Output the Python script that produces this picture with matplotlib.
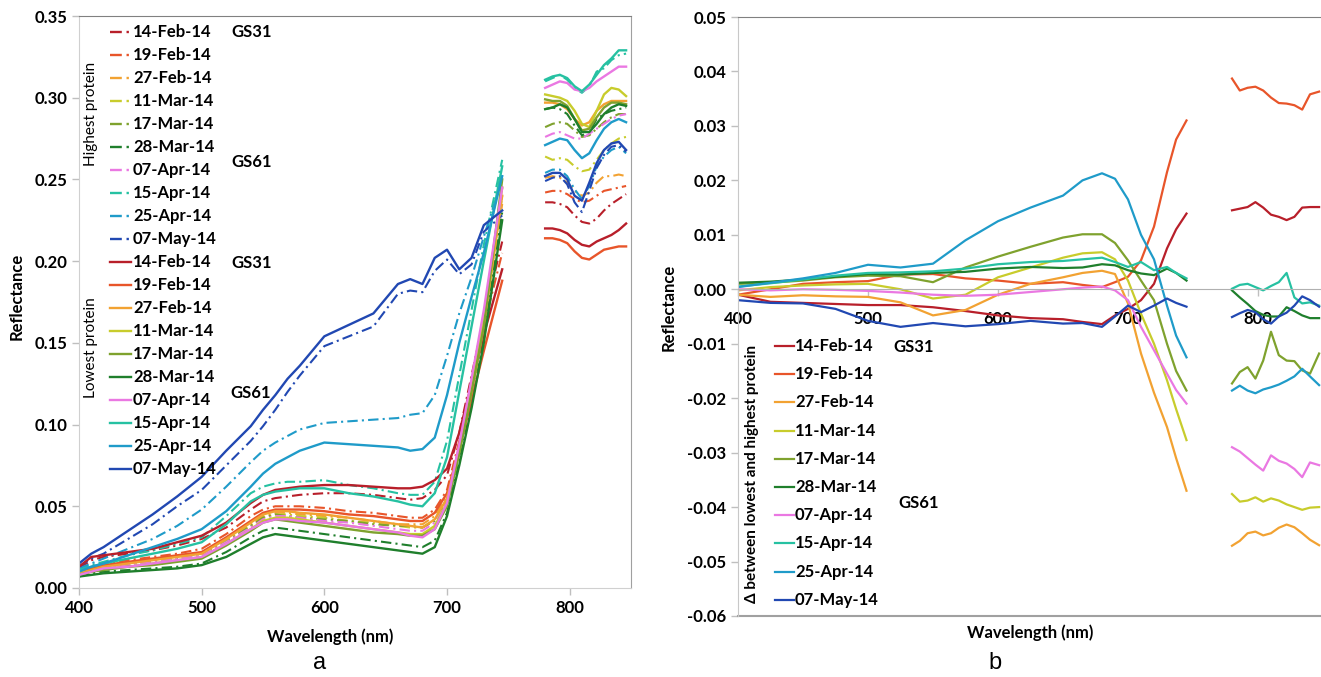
import matplotlib
matplotlib.use("Agg")
import matplotlib.pyplot as plt
from matplotlib.lines import Line2D

plt.rcParams["font.family"] = ["Lato", "DejaVu Sans"]
plt.rcParams["axes.unicode_minus"] = False

#%%data
dates = ["14-Feb-14", "19-Feb-14", "27-Feb-14", "11-Mar-14", "17-Mar-14",
         "28-Mar-14", "07-Apr-14", "15-Apr-14", "25-Apr-14", "07-May-14"]
colors = ["#b81f2a", "#e8552a", "#f2a232", "#c8cc2c", "#7fa22e",
          "#1f7f2c", "#ea78e2", "#26c1a2", "#1f9bc9", "#2148b2"]

# panel a, visible/red-edge part
wl_vis_a = [400, 410, 420, 440, 460, 480, 500, 520, 540, 550, 560, 570, 580, 600, 620,
            640, 660, 670, 680, 690, 700, 710, 720, 730, 745]
# highest protein (dash-dot)
hi_14feb = [0.012, 0.017, 0.019, 0.021, 0.023, 0.026, 0.030, 0.037, 0.048, 0.053, 0.055, 0.056, 0.057, 0.058, 0.058, 0.057, 0.055, 0.054, 0.055, 0.060, 0.069, 0.095, 0.130, 0.165, 0.212]
hi_19feb = [0.010, 0.013, 0.015, 0.017, 0.019, 0.021, 0.024, 0.033, 0.044, 0.048, 0.050, 0.050, 0.050, 0.049, 0.047, 0.046, 0.044, 0.043, 0.043, 0.048, 0.060, 0.090, 0.125, 0.160, 0.205]
hi_27feb = [0.009, 0.011, 0.013, 0.015, 0.017, 0.019, 0.021, 0.029, 0.039, 0.044, 0.046, 0.046, 0.045, 0.044, 0.043, 0.041, 0.039, 0.039, 0.039, 0.044, 0.056, 0.085, 0.120, 0.158, 0.235]
hi_11mar = [0.009, 0.011, 0.013, 0.015, 0.017, 0.019, 0.021, 0.029, 0.038, 0.043, 0.045, 0.045, 0.044, 0.043, 0.041, 0.040, 0.038, 0.037, 0.037, 0.042, 0.054, 0.085, 0.122, 0.160, 0.240]
hi_17mar = [0.009, 0.011, 0.012, 0.014, 0.016, 0.018, 0.020, 0.028, 0.038, 0.043, 0.045, 0.044, 0.043, 0.042, 0.041, 0.039, 0.038, 0.038, 0.037, 0.041, 0.053, 0.084, 0.120, 0.158, 0.245]
hi_28mar = [0.007, 0.009, 0.010, 0.011, 0.012, 0.013, 0.015, 0.022, 0.031, 0.035, 0.037, 0.036, 0.035, 0.033, 0.031, 0.029, 0.027, 0.026, 0.025, 0.029, 0.046, 0.077, 0.112, 0.152, 0.230]
hi_07apr = [0.008, 0.010, 0.012, 0.014, 0.016, 0.018, 0.020, 0.028, 0.037, 0.042, 0.044, 0.044, 0.043, 0.041, 0.040, 0.038, 0.036, 0.035, 0.035, 0.040, 0.054, 0.088, 0.126, 0.166, 0.240]
hi_15apr = [0.011, 0.014, 0.016, 0.020, 0.023, 0.027, 0.031, 0.044, 0.058, 0.062, 0.064, 0.065, 0.065, 0.066, 0.063, 0.061, 0.058, 0.057, 0.057, 0.065, 0.090, 0.130, 0.170, 0.210, 0.262]
hi_25apr = [0.012, 0.015, 0.018, 0.024, 0.030, 0.038, 0.048, 0.062, 0.077, 0.084, 0.089, 0.093, 0.097, 0.101, 0.102, 0.103, 0.104, 0.106, 0.107, 0.118, 0.142, 0.168, 0.190, 0.215, 0.250]
hi_07may = [0.013, 0.018, 0.021, 0.030, 0.039, 0.050, 0.060, 0.075, 0.090, 0.099, 0.109, 0.120, 0.130, 0.148, 0.154, 0.160, 0.180, 0.182, 0.181, 0.194, 0.201, 0.192, 0.198, 0.218, 0.228]
# lowest protein (solid)
lo_14feb = [0.013, 0.019, 0.020, 0.022, 0.024, 0.028, 0.032, 0.040, 0.052, 0.057, 0.060, 0.061, 0.062, 0.063, 0.063, 0.062, 0.061, 0.061, 0.062, 0.066, 0.073, 0.095, 0.125, 0.155, 0.195]
lo_19feb = [0.009, 0.012, 0.014, 0.016, 0.018, 0.020, 0.022, 0.031, 0.041, 0.046, 0.048, 0.048, 0.048, 0.047, 0.045, 0.044, 0.042, 0.041, 0.041, 0.046, 0.058, 0.085, 0.115, 0.145, 0.188]
lo_27feb = [0.009, 0.011, 0.013, 0.015, 0.017, 0.019, 0.021, 0.030, 0.040, 0.045, 0.047, 0.047, 0.046, 0.045, 0.043, 0.041, 0.039, 0.038, 0.037, 0.042, 0.055, 0.085, 0.120, 0.160, 0.240]
lo_11mar = [0.008, 0.010, 0.012, 0.013, 0.015, 0.017, 0.019, 0.027, 0.036, 0.041, 0.043, 0.043, 0.042, 0.040, 0.038, 0.036, 0.034, 0.033, 0.033, 0.038, 0.052, 0.085, 0.125, 0.165, 0.245]
lo_17mar = [0.008, 0.010, 0.011, 0.013, 0.014, 0.016, 0.018, 0.026, 0.035, 0.040, 0.042, 0.041, 0.040, 0.038, 0.036, 0.034, 0.033, 0.032, 0.032, 0.036, 0.050, 0.082, 0.120, 0.160, 0.250]
lo_28mar = [0.007, 0.008, 0.009, 0.010, 0.011, 0.012, 0.014, 0.019, 0.027, 0.031, 0.033, 0.032, 0.031, 0.029, 0.027, 0.025, 0.023, 0.022, 0.021, 0.025, 0.044, 0.075, 0.110, 0.150, 0.225]
lo_07apr = [0.008, 0.010, 0.012, 0.013, 0.015, 0.017, 0.019, 0.027, 0.036, 0.040, 0.042, 0.042, 0.041, 0.040, 0.038, 0.036, 0.034, 0.032, 0.031, 0.036, 0.052, 0.088, 0.128, 0.170, 0.245]
lo_15apr = [0.011, 0.013, 0.015, 0.018, 0.021, 0.024, 0.028, 0.039, 0.053, 0.057, 0.059, 0.060, 0.061, 0.061, 0.058, 0.056, 0.053, 0.051, 0.050, 0.058, 0.080, 0.120, 0.160, 0.200, 0.258]
lo_25apr = [0.010, 0.013, 0.015, 0.020, 0.025, 0.030, 0.036, 0.047, 0.062, 0.070, 0.076, 0.080, 0.084, 0.089, 0.088, 0.087, 0.086, 0.084, 0.085, 0.092, 0.118, 0.150, 0.178, 0.205, 0.252]
lo_07may = [0.015, 0.021, 0.025, 0.035, 0.045, 0.056, 0.068, 0.084, 0.099, 0.109, 0.118, 0.128, 0.136, 0.154, 0.161, 0.168, 0.186, 0.189, 0.186, 0.202, 0.207, 0.195, 0.202, 0.222, 0.231]

# panel a, NIR part
wl_nir_a = [780, 786, 792, 798, 804, 810, 816, 822, 828, 834, 840, 846]
hi_nir_14feb = [0.236, 0.236, 0.235, 0.233, 0.228, 0.224, 0.223, 0.226, 0.231, 0.235, 0.238, 0.241]
hi_nir_19feb = [0.242, 0.243, 0.243, 0.241, 0.238, 0.236, 0.237, 0.240, 0.243, 0.244, 0.245, 0.246]
hi_nir_27feb = [0.251, 0.252, 0.251, 0.248, 0.243, 0.240, 0.242, 0.248, 0.252, 0.252, 0.253, 0.252]
hi_nir_11mar = [0.264, 0.262, 0.263, 0.262, 0.258, 0.255, 0.256, 0.262, 0.268, 0.272, 0.275, 0.276]
hi_nir_17mar = [0.282, 0.284, 0.285, 0.284, 0.280, 0.276, 0.277, 0.281, 0.285, 0.288, 0.290, 0.290]
hi_nir_28mar = [0.293, 0.294, 0.293, 0.290, 0.283, 0.277, 0.279, 0.287, 0.290, 0.292, 0.293, 0.294]
hi_nir_07apr = [0.276, 0.278, 0.279, 0.277, 0.275, 0.275, 0.278, 0.281, 0.284, 0.287, 0.289, 0.290]
hi_nir_15apr = [0.310, 0.312, 0.314, 0.311, 0.306, 0.303, 0.307, 0.316, 0.318, 0.323, 0.326, 0.327]
hi_nir_25apr = [0.254, 0.256, 0.256, 0.252, 0.244, 0.238, 0.246, 0.258, 0.264, 0.268, 0.270, 0.266]
hi_nir_07may = [0.249, 0.251, 0.252, 0.247, 0.236, 0.230, 0.243, 0.257, 0.265, 0.270, 0.271, 0.267]
lo_nir_14feb = [0.220, 0.220, 0.219, 0.217, 0.213, 0.210, 0.209, 0.212, 0.214, 0.216, 0.219, 0.223]
lo_nir_19feb = [0.214, 0.214, 0.213, 0.211, 0.206, 0.202, 0.201, 0.204, 0.207, 0.208, 0.209, 0.209]
lo_nir_27feb = [0.297, 0.297, 0.296, 0.293, 0.287, 0.283, 0.285, 0.292, 0.296, 0.298, 0.298, 0.298]
lo_nir_11mar = [0.302, 0.301, 0.300, 0.298, 0.292, 0.284, 0.282, 0.292, 0.302, 0.306, 0.305, 0.301]
lo_nir_17mar = [0.299, 0.298, 0.298, 0.295, 0.287, 0.280, 0.281, 0.288, 0.294, 0.297, 0.297, 0.296]
lo_nir_28mar = [0.293, 0.294, 0.296, 0.294, 0.287, 0.279, 0.279, 0.284, 0.290, 0.294, 0.296, 0.295]
lo_nir_07apr = [0.306, 0.308, 0.310, 0.309, 0.305, 0.304, 0.306, 0.310, 0.313, 0.316, 0.319, 0.319]
lo_nir_15apr = [0.311, 0.313, 0.314, 0.312, 0.307, 0.304, 0.308, 0.314, 0.320, 0.324, 0.329, 0.329]
lo_nir_25apr = [0.271, 0.273, 0.275, 0.274, 0.268, 0.263, 0.266, 0.274, 0.281, 0.285, 0.287, 0.285]
lo_nir_07may = [0.252, 0.254, 0.254, 0.250, 0.240, 0.237, 0.248, 0.260, 0.268, 0.272, 0.273, 0.268]

# panel b, difference lowest - highest protein
wl_vis_b = [400, 425, 450, 475, 500, 525, 550, 575, 600, 625, 650, 665, 680,
            690, 700, 710, 720, 730, 737, 745]
d_14feb = [-0.0010, -0.0023, -0.0025, -0.0027, -0.0029, -0.0029, -0.0033, -0.0040, -0.0048, -0.0053, -0.0055, -0.0060, -0.0064, -0.0048, -0.0036, -0.0020, 0.0010, 0.0075, 0.0110, 0.0139]
d_19feb = [-0.0010, 0.0000, 0.0010, 0.0013, 0.0015, 0.0027, 0.0028, 0.0020, 0.0016, 0.0010, 0.0013, 0.0008, 0.0004, 0.0013, 0.0023, 0.0053, 0.0115, 0.0215, 0.0275, 0.0310]
d_27feb = [-0.0010, -0.0014, -0.0011, -0.0013, -0.0014, -0.0024, -0.0048, -0.0038, -0.0010, 0.0010, 0.0022, 0.0030, 0.0034, 0.0028, -0.0026, -0.0118, -0.0190, -0.0253, -0.0310, -0.0370]
d_11mar = [-0.0002, 0.0004, 0.0007, 0.0009, 0.0010, 0.0000, -0.0017, -0.0010, 0.0022, 0.0040, 0.0058, 0.0066, 0.0068, 0.0055, 0.0016, -0.0045, -0.0100, -0.0167, -0.0220, -0.0277]
d_17mar = [0.0010, 0.0012, 0.0016, 0.0022, 0.0025, 0.0024, 0.0013, 0.0040, 0.0060, 0.0078, 0.0095, 0.0101, 0.0101, 0.0085, 0.0053, 0.0016, -0.0020, -0.0100, -0.0150, -0.0186]
d_28mar = [0.0012, 0.0014, 0.0018, 0.0023, 0.0028, 0.0027, 0.0030, 0.0032, 0.0038, 0.0041, 0.0039, 0.0040, 0.0046, 0.0044, 0.0035, 0.0029, 0.0026, 0.0038, 0.0030, 0.0016]
d_07apr = [0.0000, -0.0002, 0.0000, -0.0001, -0.0003, -0.0006, -0.0010, -0.0012, -0.0010, -0.0005, 0.0000, 0.0003, 0.0005, -0.0002, -0.0020, -0.0069, -0.0112, -0.0155, -0.0185, -0.0210]
d_15apr = [0.0005, 0.0011, 0.0018, 0.0025, 0.0030, 0.0031, 0.0033, 0.0038, 0.0046, 0.0050, 0.0052, 0.0055, 0.0058, 0.0050, 0.0041, 0.0050, 0.0035, 0.0041, 0.0030, 0.0020]
d_25apr = [0.0004, 0.0012, 0.0020, 0.0030, 0.0045, 0.0040, 0.0047, 0.0090, 0.0125, 0.0150, 0.0172, 0.0200, 0.0213, 0.0203, 0.0165, 0.0100, 0.0055, -0.0030, -0.0085, -0.0125]
d_07may = [-0.0020, -0.0025, -0.0026, -0.0036, -0.0058, -0.0069, -0.0062, -0.0068, -0.0064, -0.0058, -0.0063, -0.0062, -0.0069, -0.0050, -0.0030, -0.0042, -0.0030, -0.0017, -0.0025, -0.0032]

wl_nir_b = [780, 786, 792, 798, 804, 810, 816, 822, 828, 834, 840, 847]
dn_14feb = [0.0145, 0.0148, 0.0151, 0.0160, 0.0150, 0.0137, 0.0133, 0.0127, 0.0133, 0.0150, 0.0151, 0.0151]
dn_19feb = [0.0387, 0.0365, 0.0370, 0.0372, 0.0365, 0.0352, 0.0342, 0.0341, 0.0338, 0.0330, 0.0358, 0.0363]
dn_27feb = [-0.0471, -0.0462, -0.0448, -0.0445, -0.0452, -0.0448, -0.0438, -0.0432, -0.0437, -0.0448, -0.0460, -0.0470]
dn_11mar = [-0.0376, -0.0390, -0.0388, -0.0382, -0.0390, -0.0384, -0.0388, -0.0395, -0.0400, -0.0405, -0.0401, -0.0400]
dn_17mar = [-0.0173, -0.0152, -0.0143, -0.0164, -0.0131, -0.0078, -0.0121, -0.0131, -0.0132, -0.0149, -0.0155, -0.0118]
dn_28mar = [-0.0002, -0.0015, -0.0027, -0.0040, -0.0047, -0.0050, -0.0050, -0.0033, -0.0040, -0.0048, -0.0053, -0.0053]
dn_07apr = [-0.0290, -0.0298, -0.0310, -0.0322, -0.0333, -0.0305, -0.0315, -0.0320, -0.0330, -0.0345, -0.0318, -0.0323]
dn_15apr = [0.0001, 0.0008, 0.0010, 0.0004, -0.0002, 0.0006, 0.0013, 0.0030, -0.0015, -0.0026, -0.0024, -0.0030]
dn_25apr = [-0.0186, -0.0177, -0.0186, -0.0191, -0.0184, -0.0180, -0.0175, -0.0168, -0.0160, -0.0146, -0.0160, -0.0176]
dn_07may = [-0.0051, -0.0044, -0.0038, -0.0042, -0.0055, -0.0063, -0.0050, -0.0043, -0.0030, -0.0013, -0.0020, -0.0032]

hi_vis = [hi_14feb, hi_19feb, hi_27feb, hi_11mar, hi_17mar, hi_28mar, hi_07apr, hi_15apr, hi_25apr, hi_07may]
lo_vis = [lo_14feb, lo_19feb, lo_27feb, lo_11mar, lo_17mar, lo_28mar, lo_07apr, lo_15apr, lo_25apr, lo_07may]
hi_nir = [hi_nir_14feb, hi_nir_19feb, hi_nir_27feb, hi_nir_11mar, hi_nir_17mar, hi_nir_28mar, hi_nir_07apr, hi_nir_15apr, hi_nir_25apr, hi_nir_07may]
lo_nir = [lo_nir_14feb, lo_nir_19feb, lo_nir_27feb, lo_nir_11mar, lo_nir_17mar, lo_nir_28mar, lo_nir_07apr, lo_nir_15apr, lo_nir_25apr, lo_nir_07may]
d_vis = [d_14feb, d_19feb, d_27feb, d_11mar, d_17mar, d_28mar, d_07apr, d_15apr, d_25apr, d_07may]
d_nir = [dn_14feb, dn_19feb, dn_27feb, dn_11mar, dn_17mar, dn_28mar, dn_07apr, dn_15apr, dn_25apr, dn_07may]

#%%layout
W, H = 1321, 677
DASHDOT = (0, (5, 2, 1, 2))
TICK_FS = 12
GRID_GRAY = "#bfbfbf"


def fx(px):
    return px / W


def fy(py):
    return 1 - py / H


fig = plt.figure(figsize=(W / 100, H / 100), dpi=100)

#%%panel a
ax_a = fig.add_axes([fx(79), fy(588), (631 - 79) / W, (588 - 16) / H])
for i in range(len(dates)):
    ax_a.plot(wl_vis_a, hi_vis[i], color=colors[i], lw=1.5, ls=DASHDOT)
    ax_a.plot(wl_nir_a, hi_nir[i], color=colors[i], lw=1.5, ls=DASHDOT)
for i in range(len(dates)):
    ax_a.plot(wl_vis_a, lo_vis[i], color=colors[i], lw=1.7)
    ax_a.plot(wl_nir_a, lo_nir[i], color=colors[i], lw=1.7)
ax_a.set_xlim(400, 850)
ax_a.set_ylim(0, 0.35)
ax_a.set_xticks([400, 500, 600, 700, 800])
ax_a.set_yticks([0.0, 0.05, 0.10, 0.15, 0.20, 0.25, 0.30, 0.35])
ax_a.set_yticklabels([f"{v:.2f}" for v in ax_a.get_yticks()])
ax_a.tick_params(labelsize=TICK_FS, colors=GRID_GRAY, labelcolor="black",
                 length=5, width=1)
for lab in ax_a.get_xticklabels() + ax_a.get_yticklabels():
    lab.set_fontweight("bold")
for side in ["left", "bottom"]:
    ax_a.spines[side].set_color("#d0d0d0")
ax_a.spines["top"].set_color("#808080")
ax_a.spines["right"].set_color("#a0a0a0")

# legend a (drawn by hand to keep the GS labels aligned)
for k in range(20):
    i = k % 10
    py = 32 + 23 * k
    ls = DASHDOT if k < 10 else "-"
    fig.add_artist(Line2D([fx(110), fx(131)], [fy(py), fy(py)],
                          color=colors[i], lw=1.7, ls=ls))
    fig.text(fx(133), fy(py), dates[i], fontsize=TICK_FS, fontweight="bold",
             va="center", ha="left")
for txt, px, py in [("GS31", 231, 32), ("GS61", 231, 162),
                    ("GS31", 231, 263), ("GS61", 230, 393)]:
    fig.text(fx(px), fy(py), txt, fontsize=TICK_FS, fontweight="bold",
             va="center", ha="left")
fig.text(fx(91), fy(114), "Highest protein", rotation=90, fontsize=11,
         va="center", ha="center")
fig.text(fx(91), fy(348), "Lowest protein", rotation=90, fontsize=11,
         va="center", ha="center")
fig.text(fx(17), fy(296), "Reflectance", rotation=90, fontsize=TICK_FS,
         fontweight="bold", va="center", ha="center")
fig.text(fx(330), fy(637), "Wavelength (nm)", fontsize=TICK_FS,
         fontweight="bold", va="center", ha="center")
fig.text(fx(320), fy(663), "a", fontsize=17, family="Liberation Sans",
         va="center", ha="center")

#%%panel b
ax_b = fig.add_axes([fx(738), fy(616), (W - 738) / W, (616 - 17) / H])
for i in range(len(dates)):
    ax_b.plot(wl_vis_b, d_vis[i], color=colors[i], lw=1.6)
    ax_b.plot(wl_nir_b, d_nir[i], color=colors[i], lw=1.6)
ax_b.set_xlim(400, 400 + (W - 738) / 1.3)
ax_b.set_ylim(-0.06, 0.05)
ax_b.set_xticks([400, 500, 600, 700, 800])
yt = [-0.06, -0.05, -0.04, -0.03, -0.02, -0.01, 0.0, 0.01, 0.02, 0.03, 0.04, 0.05]
ax_b.set_yticks(yt)
ax_b.set_yticklabels([f"{v:.2f}" for v in yt])
ax_b.spines["bottom"].set_position(("data", 0))
ax_b.spines["bottom"].set_color("#b0b0b0")
ax_b.spines["left"].set_color("#c8c8c8")
ax_b.spines["top"].set_color("#808080")
ax_b.spines["right"].set_visible(False)
ax_b.axhline(-0.06, color="#a0a0a0", lw=1.5, clip_on=False)
ax_b.tick_params(labelsize=TICK_FS, colors=GRID_GRAY, labelcolor="black",
                 length=5, width=1)
ax_b.tick_params(axis="x", pad=11)
for lab in ax_b.get_xticklabels() + ax_b.get_yticklabels():
    lab.set_fontweight("bold")

for k in range(10):
    py = 346 + 28.2 * k
    fig.add_artist(Line2D([fx(775), fx(794)], [fy(py), fy(py)],
                          color=colors[k], lw=1.6))
    fig.text(fx(795), fy(py), dates[k], fontsize=TICK_FS, fontweight="bold",
             va="center", ha="left")
fig.text(fx(893), fy(347), "GS31", fontsize=TICK_FS, fontweight="bold",
         va="center", ha="left")
fig.text(fx(898), fy(503), "GS61", fontsize=TICK_FS, fontweight="bold",
         va="center", ha="left")
fig.text(fx(752), fy(474), "\u0394 between lowest and highest protein",
         rotation=90, fontsize=11, fontweight="bold", va="center", ha="center")
fig.text(fx(669), fy(307), "Reflectance", rotation=90, fontsize=TICK_FS,
         fontweight="bold", va="center", ha="center")
fig.text(fx(1030), fy(633), "Wavelength (nm)", fontsize=TICK_FS,
         fontweight="bold", va="center", ha="center")
fig.text(fx(995), fy(663), "b", fontsize=17, family="Liberation Sans",
         va="center", ha="center")

fig.savefig("out.png", dpi=100)
